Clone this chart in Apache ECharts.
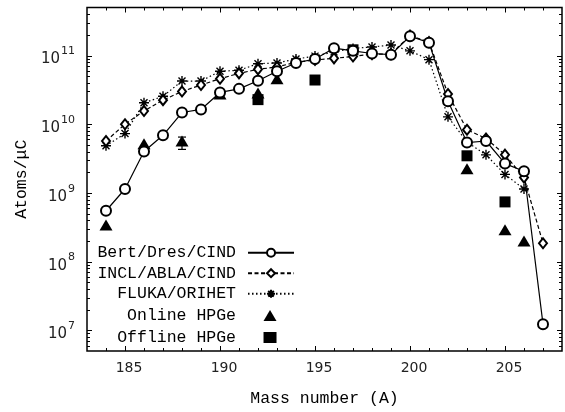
<!DOCTYPE html>
<html>
<head>
<meta charset="utf-8">
<script src="https://cdn.jsdelivr.net/npm/echarts@6/dist/echarts.min.js"></script>
<style>
  html, body { margin: 0; padding: 0; background: #fff; }
  #chart { width: 565px; height: 412px; }
</style>
</head>
<body>
<div id="chart"></div>
<script>
// model curves, one value per mass number
const massNumbers = [184, 185, 186, 187, 188, 189, 190, 191, 192, 193, 194, 195,
                     196, 197, 198, 199, 200, 201, 202, 203, 204, 205, 206, 207];
const bertDres = [5.5e8, 1.14e9, 4.0e9, 6.9e9, 1.48e10, 1.64e10, 2.9e10, 3.27e10, 4.3e10, 5.9e10, 7.8e10, 8.9e10,
                  1.28e11, 1.17e11, 1.07e11, 1.03e11, 1.91e11, 1.54e11, 2.16e10, 5.4e9, 5.7e9, 2.67e9, 2.07e9, 1.23e7];
const inclAbla = [5.7e9, 1.0e10, 1.56e10, 2.24e10, 3.0e10, 3.72e10, 4.6e10, 5.5e10, 6.3e10, 6.8e10, 8.0e10, 8.6e10,
                  9.1e10, 9.7e10, 1.05e11, 1.05e11, 1.95e11, 1.57e11, 2.75e10, 8.3e9, 6.2e9, 3.6e9, 1.67e9, 1.85e8];
const flukaOrihet = [4.85e9, 7.3e9, 2.05e10, 2.55e10, 4.25e10, 4.25e10, 5.9e10, 6.1e10, 7.6e10, 7.8e10, 8.9e10, 9.8e10,
                     1.13e11, 1.27e11, 1.33e11, 1.42e11, 1.17e11, 8.7e10, 1.28e10, 5.5e9, 3.58e9, 1.86e9, 1.14e9, null];

// measurements
const onlineMass = [184, 186, 188, 190, 192, 193, 203, 205, 206];
const onlineVal = [3.4e8, 5.2e9, 5.7e9, 2.75e10, 2.84e10, 4.6e10, 2.24e9, 2.92e8, 1.99e8];
const onlineErrMass = [188];
const onlineErrLow = [4.3e9];
const onlineErrHigh = [6.5e9];
const offlineMass = [192, 195, 197, 203, 205];
const offlineVal = [2.28e10, 4.4e10, 1.21e11, 3.47e9, 7.4e8];

// ticks
const xMajorTicks = [185, 190, 195, 200, 205];
const xMinorTicks = [184, 186, 187, 188, 189, 191, 192, 193, 194, 196, 197, 198, 199, 201, 202, 203, 204, 206, 207];
const yMajorTicks = [1e7, 1e8, 1e9, 1e10, 1e11];
const yMinorSteps = [2, 3, 4, 5, 6, 7, 8, 9];
const yDecades = [1e6, 1e7, 1e8, 1e9, 1e10, 1e11];

const X_MIN = 183, X_MAX = 208, Y_MIN = 5e6, Y_MAX = 5e11;

const yMinorTicks = [];
yDecades.forEach(d => yMinorSteps.forEach(s => {
  const v = d * s;
  if (v > Y_MIN && v < Y_MAX) yMinorTicks.push(v);
}));

const MONO = '"Liberation Mono", "DejaVu Sans Mono", monospace';
const SANS = '"DejaVu Sans", "Liberation Sans", sans-serif';
const STAR = 'path://M0,-10L0,10M-10,0L10,0M-7,-7L7,7M-7,7L7,-7';

const pairs = (xs, ys) => xs.map((x, i) => [x, ys[i]]);

const chart = echarts.init(document.getElementById('chart'));

function tickSeries(data, isX) {
  return {
    type: 'custom',
    silent: true,
    z: 5,
    data: data,
    renderItem: (params, api) => {
      const cs = params.coordSys;
      const len = api.value(2) ? 5 : 3;
      const st = { stroke: '#000', lineWidth: 1 };
      if (isX) {
        const x = Math.round(api.coord([api.value(0), 1e9])[0]) + 0.5;
        const yb = cs.y + cs.height, yt = cs.y;
        return { type: 'group', children: [
          { type: 'line', shape: { x1: x, y1: yb, x2: x, y2: yb - len }, style: st },
          { type: 'line', shape: { x1: x, y1: yt, x2: x, y2: yt + len }, style: st }
        ] };
      }
      const y = Math.round(api.coord([190, api.value(1)])[1]) + 0.5;
      const xl = cs.x, xr = cs.x + cs.width;
      return { type: 'group', children: [
        { type: 'line', shape: { x1: xl, y1: y, x2: xl + len, y2: y }, style: st },
        { type: 'line', shape: { x1: xr, y1: y, x2: xr - len, y2: y }, style: st }
      ] };
    }
  };
}

const xTickData = xMajorTicks.map(v => [v, 1e9, 1]).concat(xMinorTicks.map(v => [v, 1e9, 0]));
const yTickData = yMajorTicks.map(v => [190, v, 1]).concat(yMinorTicks.map(v => [190, v, 0]));

// legend: items are right-aligned to the widest one, so each legend block
// starts where its widest label must start for all texts to end at x=236
const CHAR_W = 9.9;
function legendText(padRight) {
  return {
    fontFamily: MONO, fontSize: 16.5, color: '#000',
    rich: { t: { fontFamily: MONO, fontSize: 16.5, color: '#000', padding: [0, padRight, 0, 0] } }
  };
}

chart.setOption({
  animation: false,
  backgroundColor: '#fff',
  grid: {
    left: 87, right: 3, top: 7.5, bottom: 52.7,
    show: true, borderColor: '#000', borderWidth: 1.5, backgroundColor: 'transparent'
  },
  legend: [
    {
      orient: 'vertical', left: 236 - 14 * CHAR_W, top: 244.2, padding: 0,
      align: 'right', itemWidth: 46, itemHeight: 10, itemGap: 3.5,
      selectedMode: false,
      textStyle: legendText(7),
      formatter: name => '{t|' + name + '}',
      data: ['Bert/Dres/CIND', 'INCL/ABLA/CIND', 'FLUKA/ORIHET']
    },
    {
      orient: 'vertical', left: 236 - 12 * CHAR_W, top: 307, padding: 0,
      align: 'right', itemWidth: 13, itemHeight: 11, itemGap: 5,
      selectedMode: false,
      textStyle: legendText(22.5),
      formatter: name => '{t|' + name + '}',
      data: ['Online HPGe', 'Offline HPGe']
    }
  ],
  xAxis: {
    type: 'value',
    min: X_MIN, max: X_MAX, interval: 1,
    name: 'Mass number (A)',
    nameLocation: 'middle',
    nameGap: 39,
    nameTextStyle: { fontFamily: MONO, fontSize: 16.5, color: '#000' },
    axisLine: { show: false },
    axisTick: { show: false },
    splitLine: { show: false },
    axisLabel: {
      margin: 10,
      fontFamily: SANS, fontSize: 14, color: '#222',
      padding: [0, 0, 0, 8],
      formatter: v => (v % 5 === 0 ? String(v) : '')
    }
  },
  yAxis: {
    type: 'log',
    logBase: 10,
    min: Y_MIN, max: Y_MAX,
    name: 'Atoms/\u03bcC',
    nameLocation: 'middle',
    nameGap: 56,
    nameTextStyle: { fontFamily: MONO, fontSize: 16.5, color: '#000' },
    axisLine: { show: false },
    axisTick: { show: false },
    splitLine: { show: false },
    axisLabel: {
      margin: 12,
      color: '#222',
      formatter: v => {
        const e = Math.log10(v);
        if (Math.abs(e - Math.round(e)) > 1e-6) return '';
        return '{b|10}{s|' + Math.round(e) + '}';
      },
      rich: {
        b: { fontFamily: SANS, fontSize: 15, color: '#222', padding: [8, 0, 0, 0] },
        s: { fontFamily: SANS, fontSize: 11, color: '#222', padding: [0, 0, 8, 1] }
      }
    }
  },
  series: [
    tickSeries(xTickData, true),
    tickSeries(yTickData, false),
    {
      name: 'FLUKA/ORIHET', type: 'line',
      data: pairs(massNumbers, flukaOrihet),
      symbol: STAR, symbolSize: 10,
      lineStyle: { color: '#000', width: 1.2, type: [1.5, 2.5] },
      itemStyle: { color: '#000', borderColor: '#000', borderWidth: 1.4 }
    },
    {
      name: 'INCL/ABLA/CIND', type: 'line',
      data: pairs(massNumbers, inclAbla),
      symbol: 'emptyDiamond', symbolSize: [8, 10],
      lineStyle: { color: '#000', width: 1.2, type: [4, 2.5] },
      itemStyle: { color: '#000', borderWidth: 1.2 }
    },
    {
      name: 'Bert/Dres/CIND', type: 'line',
      data: pairs(massNumbers, bertDres),
      symbol: 'emptyCircle', symbolSize: 10,
      lineStyle: { color: '#000', width: 1.2 },
      itemStyle: { color: '#000', borderWidth: 1.2 }
    },
    {
      type: 'custom', silent: true, z: 3,
      data: onlineErrMass.map((m, i) => [m, onlineErrLow[i], onlineErrHigh[i]]),
      renderItem: (params, api) => {
        const lo = api.coord([api.value(0), api.value(1)]);
        const hi = api.coord([api.value(0), api.value(2)]);
        const st = { stroke: '#000', lineWidth: 1.2 };
        return { type: 'group', children: [
          { type: 'line', shape: { x1: lo[0], y1: lo[1], x2: hi[0], y2: hi[1] }, style: st },
          { type: 'line', shape: { x1: lo[0] - 4, y1: lo[1], x2: lo[0] + 4, y2: lo[1] }, style: st },
          { type: 'line', shape: { x1: hi[0] - 4, y1: hi[1], x2: hi[0] + 4, y2: hi[1] }, style: st }
        ] };
      }
    },
    {
      name: 'Online HPGe', type: 'scatter',
      data: pairs(onlineMass, onlineVal),
      symbol: 'triangle', symbolSize: [13, 11],
      itemStyle: { color: '#000', opacity: 1 }
    },
    {
      name: 'Offline HPGe', type: 'scatter',
      data: pairs(offlineMass, offlineVal),
      symbol: 'rect', symbolSize: 11,
      itemStyle: { color: '#000', opacity: 1 }
    }
  ]
});
</script>
</body>
</html>
